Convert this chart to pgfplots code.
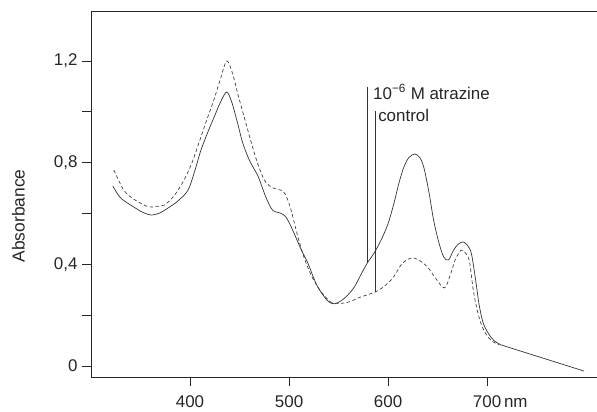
\documentclass[border=0pt]{standalone}
\usepackage{fontspec}
\setmainfont{Liberation Sans}
\usepackage{pgfplots}
\pgfplotsset{compat=1.18}
\begin{document}
\begin{tikzpicture}
\path[use as bounding box] (0,0) rectangle (597bp,412bp);
\begin{axis}[
  at={(91bp,35bp)}, anchor=south west,
  scale only axis, width=506bp, height=366bp,
  xmin=300, xmax=811, ymin=-0.0433, ymax=1.3966,
  axis x line*=bottom, axis y line*=left,
  axis line style={black!85, line width=0.8pt, -},
  xtick={400,500,600,700},
  xticklabels={400,500,600,{700\rlap{\,nm}}},
  ytick={0,0.4,0.8,1.2},
  yticklabels={0,{0,4},{0,8},{1,2}},
  minor ytick={0.2,0.6,1.0},
  tick align=outside,
  major tick length=9bp, minor tick length=9bp,
  tick style={black!85, line width=0.8pt},
  every tick label/.append style={font=\fontsize{17}{18}\selectfont, text=black!85},
  xticklabel style={yshift=-6bp},
  yticklabel style={xshift=-1bp},
  clip mode=individual,
]
\draw[black!85, line width=0.8pt] (rel axis cs:0,1) -- (rel axis cs:1,1);
% atrazine (solid)
\addplot[black!80, line width=0.7pt, smooth, tension=0.5] coordinates {
(322,0.708) (330,0.661) (343,0.626) (352,0.605) (361,0.594) (370,0.603)
(378,0.622) (388,0.650) (398,0.692) (405,0.770) (411,0.849) (418,0.920)
(424,0.976) (431,1.040) (437,1.078) (442,1.040) (448,0.956) (453,0.880)
(459,0.818) (464,0.780) (469,0.744) (476,0.670) (482,0.620) (486,0.607)
(491,0.602) (496,0.590) (500,0.565) (505,0.523) (512,0.460) (519,0.405) (524,0.355)
(529,0.311) (536,0.270) (541,0.250) (546,0.245) (552,0.255) (559,0.278) (566,0.311)
(572,0.355) (579,0.405) (586,0.445) (593,0.496) (600,0.560) (606,0.641)
(611,0.720) (616,0.783) (621,0.820) (627,0.834) (632,0.820) (636,0.783)
(641,0.690) (646,0.574) (651,0.490) (656,0.430) (661,0.417) (666,0.455)
(671,0.480) (676,0.488) (680,0.475) (684,0.445) (688,0.350) (692,0.240)
(696,0.170) (701,0.130) (707,0.100) (714,0.083)
};
\addplot[black!80, line width=0.7pt] coordinates {(714,0.083) (798,-0.020)};
% control (dashed)
\addplot[black!75, line width=0.7pt, dash pattern=on 3.5pt off 2.5pt, smooth, tension=0.5] coordinates {
(323,0.771) (328,0.730) (333,0.692) (340,0.665) (348,0.645) (358,0.626)
(366,0.628) (374,0.633) (384,0.670) (394,0.732) (402,0.800) (411,0.901)
(418,0.980) (424,1.046) (430,1.120) (437,1.200) (443,1.150) (448,1.074)
(455,0.975) (462,0.877) (468,0.800) (475,0.732) (482,0.704) (488,0.695)
(494,0.688) (498,0.660) (502,0.614) (509,0.507) (515,0.429) (522,0.360)
(529,0.311) (536,0.275) (542,0.252) (549,0.246) (556,0.248) (563,0.255)
(570,0.268) (579,0.280) (587,0.291) (595,0.310) (603,0.338) (608,0.365)
(613,0.397) (619,0.418) (626,0.425) (633,0.412) (640,0.389) (648,0.345)
(657,0.307) (663,0.360) (668,0.420) (674,0.456) (678,0.445) (682,0.415)
(686,0.300) (690,0.220) (694,0.165) (699,0.125) (705,0.098) (712,0.083)
};
% leader lines
\addplot[black!80, line width=0.7pt] coordinates {(579.3,1.098) (579.3,0.405)};
\addplot[black!80, line width=0.7pt] coordinates {(586.9,1.003) (586.9,0.291)};
\node[anchor=base west, inner sep=0pt, font=\fontsize{17}{18}\selectfont, text=black!85]
  at (axis cs:584.8,1.050) {10\textsuperscript{−6} M atrazine};
\node[anchor=base west, inner sep=0pt, font=\fontsize{17}{18}\selectfont, text=black!85]
  at (axis cs:589.9,0.960) {control};
\end{axis}
\node[rotate=90, inner sep=0pt, font=\fontsize{17.5}{18}\selectfont, text=black!85] at (18.5bp,196bp) {Absorbance};
\end{tikzpicture}
\end{document}
